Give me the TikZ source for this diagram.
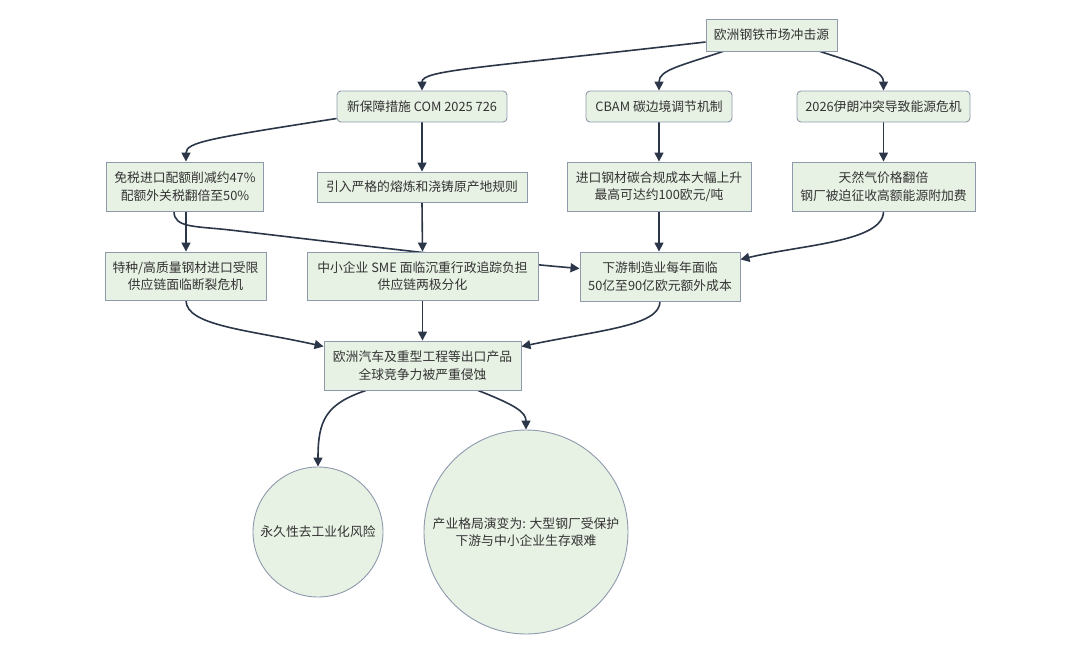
\documentclass[tikz,border=0pt]{standalone}
\usepackage{fontspec}
\setmainfont{Noto Sans CJK SC}
\usetikzlibrary{arrows.meta,calc}
\definecolor{nodefill}{HTML}{E8F2E4}
\definecolor{nodeline}{HTML}{8E99AC}
\definecolor{edgecol}{HTML}{2B3648}
\definecolor{txt}{HTML}{333333}
\pgfdeclarelayer{bg}
\pgfsetlayers{bg,main}
\tikzset{
  box/.style={draw=nodeline, fill=nodefill, line width=0.9pt, inner sep=0pt, align=center,
    text=txt, font=\fontsize{12.8}{17.5}\selectfont},
  rbox/.style={box, rounded corners=4pt},
  circ/.style={box, circle},
  edge/.style={draw=edgecol, line width=1.6pt, -{Triangle[length=9pt,width=9pt]}}
}
\begin{document}
\begin{tikzpicture}[x=1pt,y=-1pt]
\useasboundingbox (0,0) rectangle (1080,654);
\node[box, minimum width=131pt, minimum height=32pt] (top) at (771.5,35) {欧洲钢铁市场冲击源};
\node[rbox, minimum width=170pt, minimum height=31pt] (com) at (422,106.5) {新保障措施 COM 2025 726};
\node[rbox, minimum width=146pt, minimum height=31pt] (cbam) at (659,106.5) {CBAM 碳边境调节机制};
\node[rbox, minimum width=173pt, minimum height=31pt] (iran) at (883.5,106.5) {2026伊朗冲突导致能源危机};
\node[box, minimum width=157pt, minimum height=49pt] (mianshui) at (185,186.5) {免税进口配额削减约47\%\\配额外关税翻倍至50\%};
\node[box, minimum width=210pt, minimum height=30pt] (yinru) at (422,187) {引入严格的熔炼和浇铸原产地规则};
\node[box, minimum width=184pt, minimum height=49pt] (jinkou) at (659,186.5) {进口钢材碳合规成本大幅上升\\最高可达约100欧元/吨};
\node[box, minimum width=183pt, minimum height=49pt] (tianran) at (883.5,186.5) {天然气价格翻倍\\钢厂被迫征收高额能源附加费};
\node[box, minimum width=161pt, minimum height=48pt] (tezhong) at (185.5,276) {特种/高质量钢材进口受限\\供应链面临断裂危机};
\node[box, minimum width=231pt, minimum height=48pt] (sme) at (422.5,276) {中小企业 SME 面临沉重行政追踪负担\\供应链两极分化};
\node[box, minimum width=160pt, minimum height=49pt] (xiayou) at (660,276.5) {下游制造业每年面临\\50亿至90亿欧元额外成本};
\node[box, minimum width=197pt, minimum height=49pt] (ouzhou) at (422.5,365.5) {欧洲汽车及重型工程等出口产品\\全球竞争力被严重侵蚀};
\node[circ, minimum size=130pt] (c1) at (318,532) {永久性去工业化风险};
\node[circ, minimum size=204pt] (c2) at (526,532) {产业格局演变为: 大型钢厂受保护\\下游与中小企业生存艰难};
\begin{pgfonlayer}{bg}
\draw[edge] ($(top.west)+(0,7)$) .. controls (480,68) and (422,70) .. (com.north);
\draw[edge] ($(top.south)+(-48.5,0)$) .. controls (680,66) and (659,70) .. (cbam.north);
\draw[edge] ($(top.south)+(48.5,0)$) .. controls (868,67) and (883.5,72) .. (iran.north);
\draw[edge] ($(com.west)+(0,12)$) .. controls (212,138) and (186,142) .. ($(mianshui.north)+(1,0)$);
\draw[edge] (com.south) -- (yinru.north);
\draw[edge] (cbam.south) -- (jinkou.north);
\draw[edge] (iran.south) -- (tianran.north);
\draw[edge] ($(mianshui.south)+(1,0)$) -- ($(tezhong.north)+(0.5,0)$);
\draw[edge] ($(mianshui.south)+(-11,0)$) .. controls (174,228) and (195,226) .. (230,230)
  .. controls (350,244) and (480,260) .. ($(xiayou.west)+(0,-8)$);
\draw[edge] (yinru.south) -- (sme.north);
\draw[edge] (jinkou.south) -- ($(xiayou.north)+(-1,0)$);
\draw[edge] (tianran.south) .. controls (883.5,242) and (800,245) .. ($(xiayou.east)+(0,-17)$);
\draw[edge] ($(tezhong.south)+(0.5,0)$) .. controls (186,326) and (250,330) .. ($(ouzhou.west)+(0,-19)$);
\draw[edge] (sme.south) -- (ouzhou.north);
\draw[edge] (xiayou.south) .. controls (660,326) and (600,330) .. ($(ouzhou.east)+(0,-19)$);
\draw[edge] ($(ouzhou.south)+(-56.5,0)$) .. controls (326,404) and (318,420) .. (c1.north);
\draw[edge] ($(ouzhou.south)+(55.5,0)$) .. controls (515,405) and (526,412) .. (c2.north);
\end{pgfonlayer}
\end{tikzpicture}
\end{document}
